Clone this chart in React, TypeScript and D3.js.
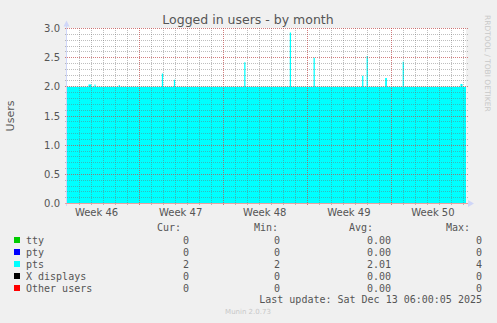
import React from "react";
import * as d3 from "d3";

// ---------- data ----------
const title = "Logged in users - by month";
const yLabel = "Users";
const startTime = "2025-11-10T01:00:00Z";
const endTime = "2025-12-13T06:00:00Z";

const yTicks = [0, 0.5, 1.0, 1.5, 2.0, 2.5, 3.0];
const weekLabels = ["Week 46", "Week 47", "Week 48", "Week 49", "Week 50"];
const weekMidpoints = [
  "2025-11-12T12:00:00Z",
  "2025-11-19T12:00:00Z",
  "2025-11-26T12:00:00Z",
  "2025-12-03T12:00:00Z",
  "2025-12-10T12:00:00Z",
];
const weekStarts = [
  "2025-11-16T00:00:00Z",
  "2025-11-23T00:00:00Z",
  "2025-11-30T00:00:00Z",
  "2025-12-07T00:00:00Z",
];

// pts samples (time, value), drawn as a step series
const ptsTimes = [
  "2025-11-10T01:00:00Z", "2025-11-11T20:00:00Z", "2025-11-12T02:00:00Z",
  "2025-11-12T08:00:00Z", "2025-11-12T10:00:00Z",
  "2025-11-14T08:30:00Z", "2025-11-14T10:30:00Z",
  "2025-11-17T22:30:00Z", "2025-11-18T01:00:00Z",
  "2025-11-18T22:30:00Z", "2025-11-19T01:00:00Z",
  "2025-11-24T19:00:00Z", "2025-11-24T21:30:00Z",
  "2025-11-28T14:00:00Z", "2025-11-28T16:30:00Z",
  "2025-11-30T13:30:00Z", "2025-11-30T16:00:00Z",
  "2025-12-04T14:30:00Z", "2025-12-04T17:00:00Z",
  "2025-12-04T23:30:00Z", "2025-12-05T02:00:00Z",
  "2025-12-06T12:30:00Z", "2025-12-06T16:00:00Z",
  "2025-12-07T23:30:00Z", "2025-12-08T02:00:00Z",
  "2025-12-12T19:00:00Z", "2025-12-12T23:00:00Z",
  "2025-12-13T06:00:00Z",
];
const ptsValues = [
  2.0, 2.04, 2.0,
  2.04, 2.0,
  2.03, 2.0,
  2.23, 2.0,
  2.12, 2.0,
  2.42, 2.0,
  2.93, 2.0,
  2.5, 2.0,
  2.19, 2.0,
  2.53, 2.0,
  2.15, 2.0,
  2.43, 2.0,
  2.05, 2.0,
  2.0,
];

const seriesNames = ["tty", "pty", "pts", "X displays", "Other users"];
const seriesColors = ["#00CC00", "#0000FF", "#00FFFF", "#000000", "#FF0000"];
const curValues = ["0", "0", "2", "0", "0"];
const minValues = ["0", "0", "2", "0", "0"];
const avgValues = ["0.00", "0.00", "2.01", "0.00", "0.00"];
const maxValues = ["0", "0", "4", "0", "0"];
const lastUpdate = "Last update: Sat Dec 13 06:00:05 2025";
const footer = "Munin 2.0.73";
const watermark = "RRDTOOL / TOBI OETIKER";

// ---------- chart ----------
const W = 497;
const H = 323;
const L = 67;
const R = 466;
const T = 28.5;
const B = 203.5;
const DAY = 86400000;

function vDots(xp: number, y0: number, y1: number) {
  let d = "";
  for (let yy = y0; yy < y1; yy += 2) d += `M${xp} ${yy}h1v1h-1z`;
  return d;
}
function hDots(yp: number, x0: number, x1: number) {
  let d = "";
  for (let xx = x0; xx < x1; xx += 2) d += `M${xx} ${yp}h1v1h-1z`;
  return d;
}

export default function App() {
  const start = new Date(startTime);
  const end = new Date(endTime);
  const x = d3.scaleUtc().domain([start, end]).range([L, R]);
  const y = d3.scaleLinear().domain([0, 3]).range([B, T]);

  const pts = ptsTimes.map((t, i) => ({ t: new Date(t), v: ptsValues[i] }));
  const area = d3
    .area<{ t: Date; v: number }>()
    .x((d) => x(d.t))
    .y0(y(0))
    .y1((d) => y(d.v))
    .curve(d3.curveStepAfter);

  const firstDay = Math.ceil(start.getTime() / DAY) * DAY;
  const dayTimes: number[] = [];
  for (let t = firstDay; t < end.getTime(); t += DAY) dayTimes.push(t);
  const weekTimes = weekStarts.map((s) => new Date(s).getTime());
  const minorY = d3.range(0, 31).map((i) => i / 10);

  const colX = (t: number) => Math.round(x(new Date(t)));
  const rowYp = (v: number) => Math.floor(y(v));

  const font = "'DejaVu Sans', Verdana, sans-serif";
  const mono = "'DejaVu Sans Mono', monospace";
  const txt = "#555555";
  const minorGrid = "rgba(110,110,110,0.45)";
  const majorGrid = "rgba(230,60,60,0.5)";

  const minorH = minorY.map((v) => hDots(rowYp(v), L - 2, R + 2)).join("");
  const minorV = dayTimes.map((t) => vDots(colX(t), 28, 206)).join("");
  const majorH = yTicks.map((v) => hDots(rowYp(v), L - 2, R + 2)).join("");
  const majorV = weekTimes.map((t) => vDots(colX(t), 28, 206)).join("");

  const rowY = (i: number) => 243.5 + i * 12;

  return (
    <svg
      width={W}
      height={H}
      style={{ position: "absolute", left: 0, top: 0, display: "block" }}
      xmlns="http://www.w3.org/2000/svg"
    >
      <rect x={0} y={0} width={W} height={H} fill="#F0F0F0" />
      <rect x={L} y={28} width={R - L} height={176} fill="#FFFFFF" />

      {/* series */}
      <path d={area(pts) || ""} fill={seriesColors[2]} />

      {/* grid */}
      <g shapeRendering="crispEdges">
        <path d={minorH} fill={minorGrid} />
        <path d={minorV} fill={minorGrid} />
        <path d={majorH} fill={majorGrid} />
        <path d={majorV} fill={majorGrid} />
        {/* axes */}
        <rect x={L - 1} y={T - 4} width={1} height={B - T + 6} fill="#CFD6F8" />
        <rect x={L - 2} y={203} width={R - L + 4} height={1} fill="#EBA0A0" />
      </g>
      <path d={`M${L - 3.5},${T - 2} L${L - 0.5},${T - 8} L${L + 2.5},${T - 2} Z`} fill="#CFD6F8" />
      <path d={`M${R + 2},${B - 3.5} L${R + 8},${B} L${R + 2},${B + 3.5} Z`} fill="#CFD6F8" />

      {/* y tick labels */}
      {yTicks.map((v, i) => (
        <text
          key={"yl" + i}
          x={60}
          y={y(v) + 3.5}
          textAnchor="end"
          fontFamily={font}
          fontSize={10}
          fill={txt}
        >
          {v.toFixed(1)}
        </text>
      ))}
      {/* week labels */}
      {weekLabels.map((w, i) => (
        <text
          key={"wl" + i}
          x={x(new Date(weekMidpoints[i]))}
          y={216}
          textAnchor="middle"
          fontFamily={font}
          fontSize={10}
          fill={txt}
        >
          {w}
        </text>
      ))}

      {/* title */}
      <text x={248} y={24} textAnchor="middle" fontFamily={font} fontSize={12.5} fill={txt}>
        {title}
      </text>
      {/* y label */}
      <text
        transform={`translate(14,${(T + B) / 2}) rotate(-90)`}
        textAnchor="middle"
        fontFamily={font}
        fontSize={11}
        fill={txt}
      >
        {yLabel}
      </text>
      {/* watermark */}
      <text
        transform={`translate(485,15) rotate(90)`}
        textAnchor="start"
        fontFamily={font}
        fontSize={7.5}
        fill="#C8C8C8"
      >
        {watermark}
      </text>

      {/* legend */}
      <g fontFamily={mono} fontSize={10} fill={txt}>
        <text x={181} y={231} textAnchor="end">Cur:</text>
        <text x={278} y={231} textAnchor="end">Min:</text>
        <text x={373} y={231} textAnchor="end">Avg:</text>
        <text x={470} y={231} textAnchor="end">Max:</text>
        {seriesNames.map((n, i) => (
          <g key={"lg" + i}>
            <rect x={14} y={rowY(i) - 6.5} width={6} height={6} fill={seriesColors[i]} />
            <text x={26} y={rowY(i)}>{n}</text>
            <text x={189} y={rowY(i)} textAnchor="end">{curValues[i]}</text>
            <text x={280} y={rowY(i)} textAnchor="end">{minValues[i]}</text>
            <text x={391} y={rowY(i)} textAnchor="end">{avgValues[i]}</text>
            <text x={482} y={rowY(i)} textAnchor="end">{maxValues[i]}</text>
          </g>
        ))}
        <text x={482} y={303} textAnchor="end">{lastUpdate}</text>
      </g>
      <text x={248} y={314} textAnchor="middle" fontFamily={font} fontSize={7} fill="#C8C8C8">
        {footer}
      </text>
    </svg>
  );
}
